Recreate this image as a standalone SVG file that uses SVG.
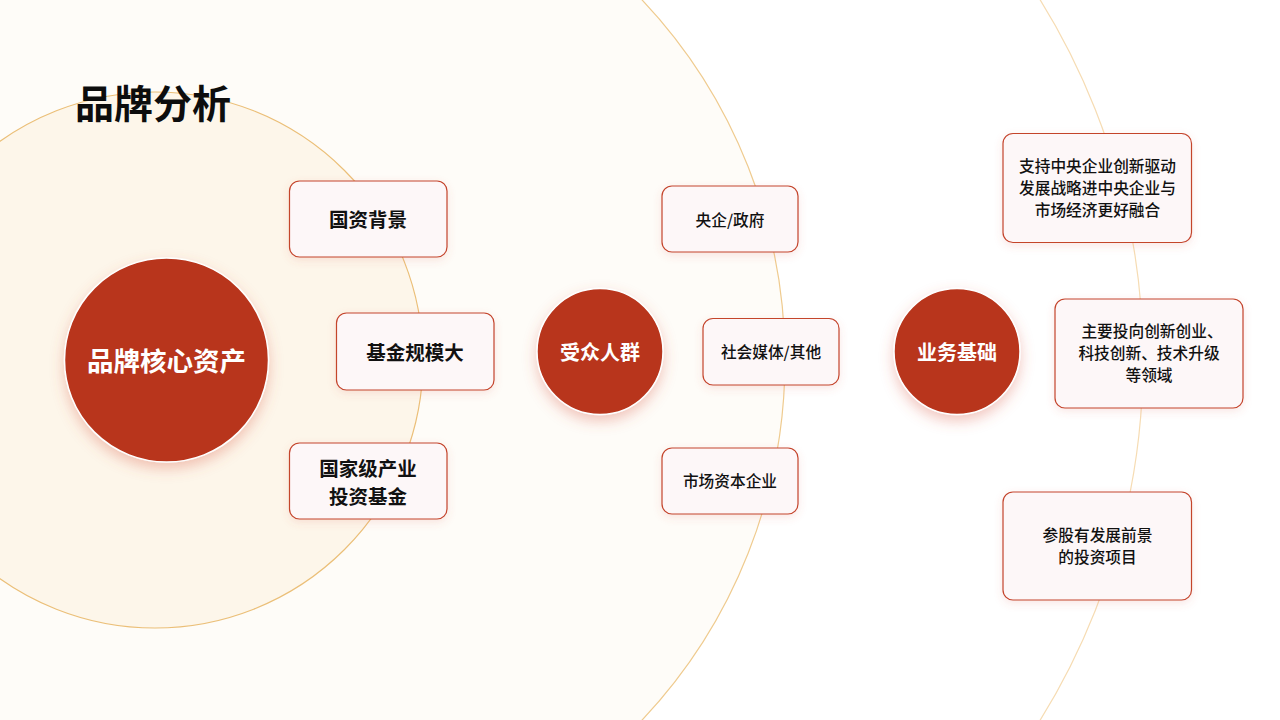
<svg xmlns="http://www.w3.org/2000/svg" width="1280" height="720" viewBox="0 0 1280 720">
  <style>
    text { font-family: "Noto Sans CJK SC", "Noto Sans", sans-serif; text-anchor: middle; dominant-baseline: central; }
    .title { font-size: 39px; font-weight: 700; fill: #0d0d0d; text-anchor: start; }
    .hub { fill: #b8351b; stroke: #ffffff; stroke-width: 1.5; filter: url(#hubShadow); }
    .hubText { font-size: 20px; font-weight: 700; fill: #ffffff; }
    .hubTextL { font-size: 26.5px; font-weight: 700; fill: #ffffff; }
    .box { fill: #fdf7f8; stroke: #c4442c; stroke-width: 1.2; filter: url(#boxShadow); }
    .boxTextB { font-size: 19.5px; font-weight: 700; fill: #111111; }
    .boxText { font-size: 15.7px; font-weight: 500; fill: #111111; }
    .ring { fill: none; stroke-width: 1.2; }
  </style>
  <defs>
    <filter id="hubShadow" x="-30%" y="-30%" width="160%" height="170%">
      <feDropShadow dx="0" dy="6" stdDeviation="7" flood-color="#d9604a" flood-opacity="0.35"/>
    </filter>
    <filter id="boxShadow" x="-20%" y="-20%" width="140%" height="150%">
      <feDropShadow dx="0" dy="3" stdDeviation="4" flood-color="#d9604a" flood-opacity="0.15"/>
    </filter>
  </defs>

  <rect x="0" y="0" width="1280" height="720" fill="#ffffff"/>

  <g id="rings">
    <circle class="ring" cx="462" cy="360" r="681" stroke="#f6dcb3"/>
    <circle cx="260" cy="360" r="525" fill="#fefcf8" stroke="#efcb8f" stroke-width="1.2"/>
    <circle cx="155" cy="360" r="268" fill="#fdf6ea" stroke="#ebbf78" stroke-width="1.2"/>
  </g>

  <text class="title" x="75" y="100.5">品牌分析</text>

  <g id="connectors"></g>

  <g id="node-core">
    <circle class="hub" cx="166.5" cy="360" r="102"/>
    <text class="hubTextL" x="166.5" y="359">品牌核心资产</text>
  </g>

  <g id="node-guozi">
    <rect class="box" x="289.5" y="181" width="157.5" height="76" rx="10"/>
    <text class="boxTextB" x="368" y="218.5">国资背景</text>
  </g>
  <g id="node-guimo">
    <rect class="box" x="336.5" y="313" width="157.5" height="77" rx="10"/>
    <text class="boxTextB" x="415" y="351.5">基金规模大</text>
  </g>
  <g id="node-jijin">
    <rect class="box" x="289.5" y="443" width="157.5" height="76" rx="10"/>
    <text class="boxTextB" x="368" y="467">国家级产业</text>
    <text class="boxTextB" x="368" y="495">投资基金</text>
  </g>

  <g id="node-audience">
    <circle class="hub" cx="600" cy="351.5" r="63"/>
    <text class="hubText" x="600" y="351.5">受众人群</text>
  </g>

  <g id="node-yangqi">
    <rect class="box" x="662" y="186" width="136" height="66" rx="10"/>
    <text class="boxText" x="730" y="219">央企/政府</text>
  </g>
  <g id="node-shehui">
    <rect class="box" x="703" y="318.5" width="136" height="66.5" rx="10"/>
    <text class="boxText" x="771" y="351.5">社会媒体/其他</text>
  </g>
  <g id="node-shichang">
    <rect class="box" x="662" y="448" width="136" height="66" rx="10"/>
    <text class="boxText" x="730" y="480.5">市场资本企业</text>
  </g>

  <g id="node-business">
    <circle class="hub" cx="957" cy="351.5" r="63"/>
    <text class="hubText" x="957" y="351.5">业务基础</text>
  </g>

  <g id="node-b1">
    <rect class="box" x="1003" y="133.5" width="188.5" height="109" rx="10"/>
    <text class="boxText" x="1097.5" y="165.5">支持中央企业创新驱动</text>
    <text class="boxText" x="1097.5" y="187.5">发展战略进中央企业与</text>
    <text class="boxText" x="1097.5" y="209.5">市场经济更好融合</text>
  </g>
  <g id="node-b2">
    <rect class="box" x="1055" y="299" width="188" height="109" rx="10"/>
    <text class="boxText" x="1152" y="330.5">主要投向创新创业、</text>
    <text class="boxText" x="1149" y="352.5">科技创新、技术升级</text>
    <text class="boxText" x="1149" y="374.5">等领域</text>
  </g>
  <g id="node-b3">
    <rect class="box" x="1003" y="492" width="188.5" height="108" rx="10"/>
    <text class="boxText" x="1097.5" y="534.5">参股有发展前景</text>
    <text class="boxText" x="1097.5" y="556.5">的投资项目</text>
  </g>
</svg>
